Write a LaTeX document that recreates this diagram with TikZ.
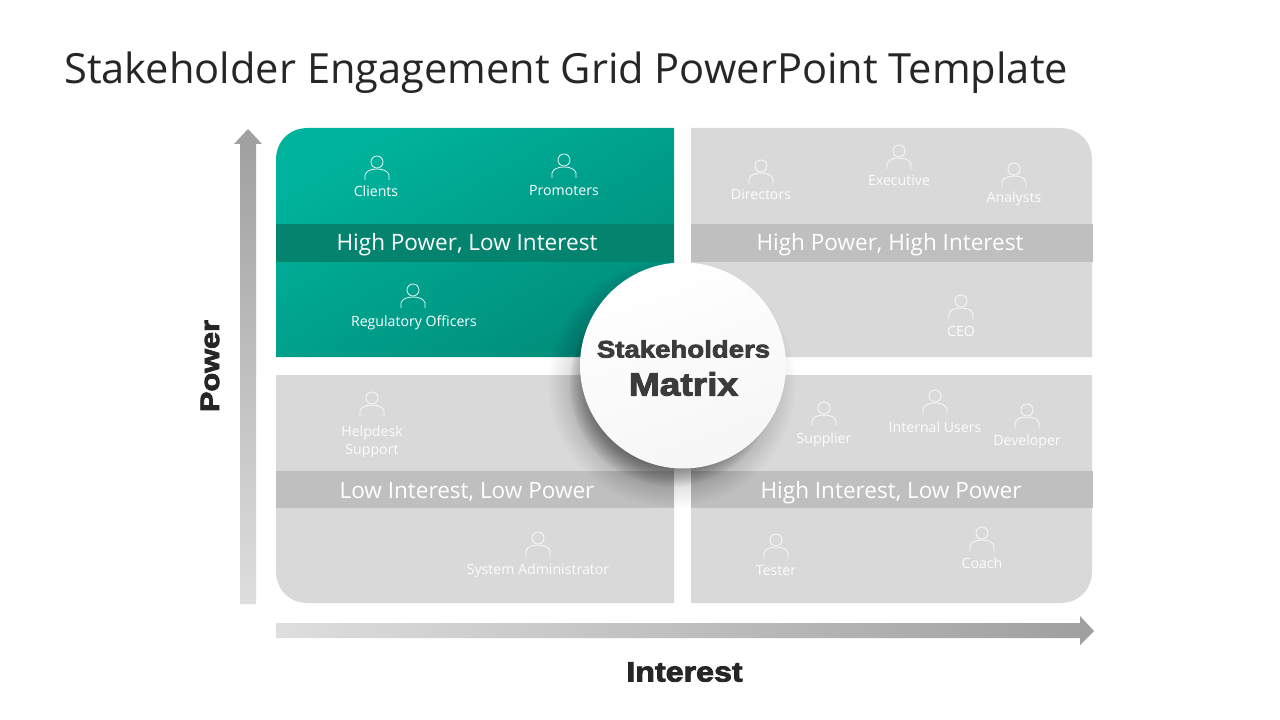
\documentclass[tikz,border=0pt]{standalone}
\usepackage{fontspec}
\setmainfont{Open Sans}
\newfontfamily\blackfont[FakeBold=3,FakeStretch=1.15]{Liberation Sans Bold}
\usetikzlibrary{calc}
\definecolor{panelgrey}{HTML}{D9D9D9}
\definecolor{bandgrey}{HTML}{BFBFBF}
\definecolor{tealA}{HTML}{00B39C}
\definecolor{tealB}{HTML}{008E7A}
\definecolor{tealband}{HTML}{04846F}
\definecolor{titlecol}{HTML}{262626}
\definecolor{headcol}{HTML}{3B3B3B}
\definecolor{softwhite}{HTML}{FCFCFC}
\definecolor{arrowdark}{HTML}{9F9F9F}
\definecolor{arrowlight}{HTML}{DEDEDE}
\definecolor{hubedge}{HTML}{F6F6F6}
\tikzset{
  x=0.75pt,y=-0.75pt,
  panel/.style={fill=panelgrey,draw=none},
  bandtext/.style={text=white,font=\fontsize{16.9pt}{20pt}\selectfont,inner sep=0pt,anchor=base},
  who/.style={text=softwhite,font=\fontsize{10.6pt}{13.5pt}\selectfont,inner sep=0pt,anchor=base,align=center},
  whotl/.style={who,text=white},
  axislabel/.style={text=titlecol,inner sep=0pt,anchor=center},
  personicon/.style={draw=softwhite,line width=0.55pt,fill=none},
}
\newcommand{\personat}[2]{%
  \draw[personicon] (#1,#2) circle[radius=6];
  \draw[personicon] ($(#1,#2)+(-12,18)$) -- ($(#1,#2)+(-12,13)$)
     .. controls ($(#1,#2)+(-11,9)$) and ($(#1,#2)+(-6,7)$) .. ($(#1,#2)+(0,7)$)
     .. controls ($(#1,#2)+(6,7)$) and ($(#1,#2)+(11,9)$) .. ($(#1,#2)+(12,13)$)
     -- ($(#1,#2)+(12,18)$);
}
\begin{document}
\begin{tikzpicture}
\useasboundingbox[fill=white] (0,0) rectangle (1280,720);
\node[text=titlecol,font=\fontsize{31.2pt}{36pt}\selectfont,inner sep=0pt,anchor=west] (title) at (64,72.5) {Stakeholder Engagement Grid PowerPoint Template};

% panels
\shade[top color=tealA,bottom color=tealB,shading angle=30]
  (276,357) -- (276,160) .. controls (276,142.3) and (288.3,128) .. (308,128) -- (674,128) -- (674,357) -- cycle;
\path[panel] (691,128) -- (1060,128) .. controls (1079.7,128) and (1092,142.3) .. (1092,160) -- (1092,357) -- (691,357) -- cycle;
\path[panel] (276,375) -- (674,375) -- (674,603) -- (308,603) .. controls (288.3,603) and (276,588.7) .. (276,571) -- cycle;
\path[panel] (691,375) -- (1092,375) -- (1092,571) .. controls (1092,588.7) and (1079.7,603) .. (1060,603) -- (691,603) -- cycle;

% bands
\fill[tealband] (276,224) rectangle (674,262);
\fill[bandgrey] (691,224) rectangle (1093,262);
\fill[bandgrey] (276,471) rectangle (674,508);
\fill[bandgrey] (691,471) rectangle (1093,508);
\node[bandtext] (bandTL) at (467,251) {High Power, Low Interest};
\node[bandtext] (bandTR) at (890,251) {High Power, High Interest};
\node[bandtext] (bandBL) at (467,498) {Low Interest, Low Power};
\node[bandtext] (bandBR) at (891,498) {High Interest, Low Power};

% people
\personat{377}{162}\node[whotl] (clients) at (376,197) {Clients};
\personat{564}{160}\node[whotl] (promoters) at (564,196) {Promoters};
\personat{413}{290}\node[whotl] (regulatory) at (414,326) {Regulatory Officers};
\personat{761}{166}\node[who] (directors) at (761,200) {Directors};
\personat{899}{151}\node[who] (executive) at (899,186) {Executive};
\personat{1014}{169}\node[who] (analysts) at (1014,203) {Analysts};
\personat{961}{301}\node[who] (ceo) at (961,336) {CEO};
\personat{372}{398}\node[who,anchor=center] (helpdesk) at (372,442) {Helpdesk\\Support};
\personat{538}{538}\node[who] (sysadmin) at (538,574) {System Administrator};
\personat{824}{408}\node[who] (supplier) at (824,443) {Supplier};
\personat{935}{396}\node[who] (internal) at (935,432) {Internal Users};
\personat{1027}{410}\node[who] (developer) at (1027,445) {Developer};
\personat{776}{540}\node[who] (tester) at (776,575) {Tester};
\personat{982}{533}\node[who] (coach) at (982,568) {Coach};

% arrows
\shade[top color=arrowdark,bottom color=arrowlight]
  (240,604) -- (240,144) -- (234,144) -- (248,129) -- (262,144) -- (256,144) -- (256,604) -- cycle;
\shade[left color=arrowlight,right color=arrowdark]
  (276,623) -- (1080,623) -- (1080,616) -- (1094,631) -- (1080,645) -- (1080,638) -- (276,638) -- cycle;

\node[axislabel,rotate=90,font=\blackfont\fontsize{20pt}{24pt}\selectfont] (power) at (210,366) {Power};
\node[axislabel,font=\blackfont\fontsize{21pt}{24pt}\selectfont] (interest) at (684.5,672) {Interest};

% soft shadow: many thin layers, denser towards the hub
\foreach \r in {124,122.5,...,104}{
  \fill[black,opacity=0.006] (672,384) circle[radius=\r];
}
\foreach \r in {103,102,...,80}{
  \fill[black,opacity=0.024] (672,384) circle[radius=\r];
}
% hub
\shade[top color=white,bottom color=hubedge,shading angle=20] (683,365.5) circle[radius=103];
\node[text=headcol,font=\blackfont\fontsize{18pt}{20pt}\selectfont,inner sep=0pt] (hubA) at (683.5,349) {Stakeholders};
\node[text=headcol,font=\blackfont\fontsize{24.2pt}{28pt}\selectfont,inner sep=0pt] (hubB) at (683.5,384) {Matrix};
\end{tikzpicture}
\end{document}
